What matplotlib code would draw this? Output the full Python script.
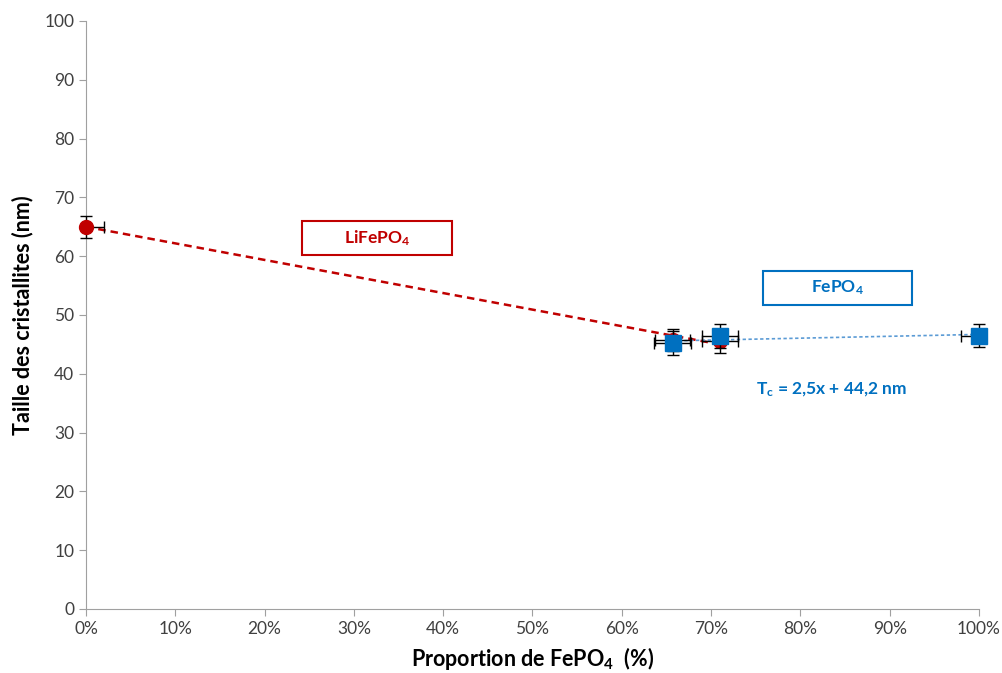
import matplotlib.pyplot as plt
from matplotlib.patches import Rectangle
from matplotlib.ticker import PercentFormatter

plt.rcParams['font.family'] = ['Lato', 'DejaVu Sans']
plt.rcParams['mathtext.fontset'] = 'custom'
plt.rcParams['mathtext.rm'] = 'Lato'
plt.rcParams['mathtext.bf'] = 'Lato:bold'
plt.rcParams['mathtext.it'] = 'Lato:italic'

# LiFePO4 (red circles)
li_x = [0.0, 0.657, 0.71]
li_y = [65.0, 45.8, 45.6]
li_xerr_lo = [0.0, 0.02, 0.02]
li_xerr_hi = [0.02, 0.02, 0.02]
li_yerr = [1.9, 1.9, 2.0]

# FePO4 (blue squares)
fe_x = [0.657, 0.71, 1.0]
fe_y = [45.2, 46.4, 46.5]
fe_xerr_lo = [0.021, 0.02, 0.02]
fe_xerr_hi = [0.021, 0.02, 0.0]
fe_yerr = [2.0, 2.0, 1.9]

# trend lines
li_trend_x = [0.0, 0.71]
li_trend_y = [65.0, 45.0]
fe_trend_x = [0.657, 1.0]
fe_trend_y = [45.6, 46.7]

red = '#C00000'
blue = '#0070C0'

fig = plt.figure(figsize=(10.03, 6.73), dpi=100)
ax = fig.add_axes([0.0857, 0.0951, 0.8903, 0.8737])

ax.plot(li_trend_x, li_trend_y, color=red, lw=1.8, ls=(0, (3, 2)), zorder=2)
ax.plot(fe_trend_x, fe_trend_y, color='#5B9BD5', lw=1.2, ls=(0, (2, 1.5)), zorder=2)

eb1 = ax.errorbar(li_x, li_y, xerr=[li_xerr_lo, li_xerr_hi], yerr=li_yerr, fmt='o',
                  color=red, ms=10, ecolor='black', elinewidth=1, capsize=4, zorder=3)
eb2 = ax.errorbar(fe_x, fe_y, xerr=[fe_xerr_lo, fe_xerr_hi], yerr=fe_yerr, fmt='s',
                  color=blue, ms=11, ecolor='black', elinewidth=1, capsize=4, zorder=4)
for eb in (eb1, eb2):
    for art in eb.get_children():
        art.set_clip_on(False)

ax.set_xlim(0, 1.0)
ax.set_ylim(0, 100)
ax.set_xticks([i / 10 for i in range(11)])
ax.set_yticks(range(0, 101, 10))
ax.xaxis.set_major_formatter(PercentFormatter(1.0, decimals=0))
ax.tick_params(labelsize=12.5, colors='#404040', length=5, color='#a0a0a0')

for s in ['top', 'right']:
    ax.spines[s].set_visible(False)
for s in ['left', 'bottom']:
    ax.spines[s].set_color('#a0a0a0')

ax.set_xlabel('Proportion de FePO$_\\mathbf{4}$  (%)', fontsize=15.5, fontweight='bold', labelpad=6)
ax.set_ylabel('Taille des cristallites (nm)', fontsize=15.5, fontweight='bold', labelpad=8)

# label boxes
ax.add_patch(Rectangle((0.242, 60.2), 0.168, 5.8, fill=False, ec=red, lw=1.5, zorder=5))
ax.text(0.326, 63.1, 'LiFePO$_\\mathbf{4}$', color=red, fontsize=12.5, fontweight='bold',
        ha='center', va='center', zorder=6)
ax.add_patch(Rectangle((0.758, 51.7), 0.167, 5.8, fill=False, ec=blue, lw=1.5, zorder=5))
ax.text(0.8415, 54.6, 'FePO$_\\mathbf{4}$', color=blue, fontsize=12.5, fontweight='bold',
        ha='center', va='center', zorder=6)

ax.text(0.835, 37.2, 'T$_\\mathbf{c}$ = 2,5x + 44,2 nm', color=blue, fontsize=12.5,
        fontweight='bold', ha='center', va='center')

fig.savefig('out.png', dpi=100)
